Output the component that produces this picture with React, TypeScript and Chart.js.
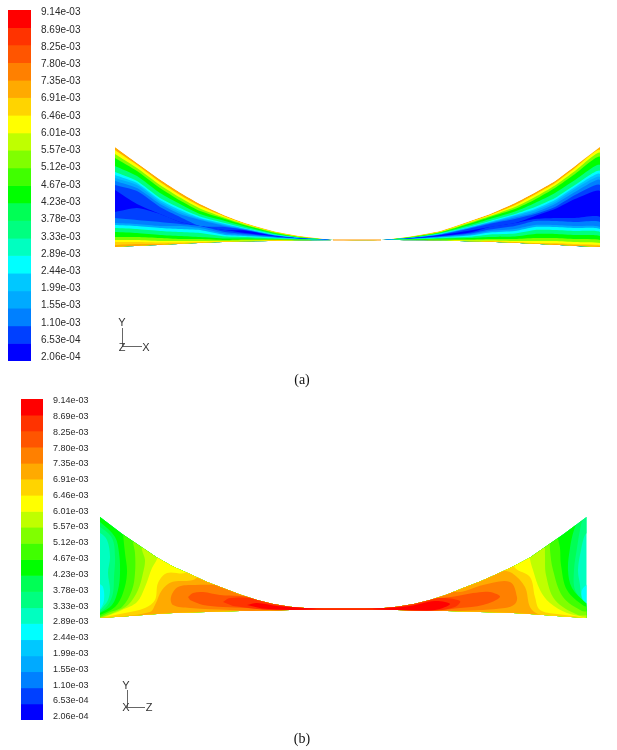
import React, { useEffect, useRef } from "react";
import { Chart, registerables } from "chart.js";

Chart.register(...registerables);

const levelValues = [
  9.14e-3, 8.69e-3, 8.25e-3, 7.8e-3, 7.35e-3, 6.91e-3, 6.46e-3, 6.01e-3, 5.57e-3, 5.12e-3, 4.67e-3,
  4.23e-3, 3.78e-3, 3.33e-3, 2.89e-3, 2.44e-3, 1.99e-3, 1.55e-3, 1.1e-3, 6.53e-4, 2.06e-4,
];
const levelLabels = [
  "9.14e-03", "8.69e-03", "8.25e-03", "7.80e-03", "7.35e-03", "6.91e-03", "6.46e-03", "6.01e-03",
  "5.57e-03", "5.12e-03", "4.67e-03", "4.23e-03", "3.78e-03", "3.33e-03", "2.89e-03", "2.44e-03",
  "1.99e-03", "1.55e-03", "1.10e-03", "6.53e-04", "2.06e-04",
];
const bandColors = [
  "#ff0000", "#ff3300", "#ff5500", "#ff8000", "#ffaa00", "#ffd400", "#ffff00", "#bfff00", "#80ff00", "#40ff00",
  "#00ff00", "#00ff55", "#00ff80", "#00ffc0", "#00ffff", "#00c8ff", "#00aaff", "#0080ff", "#0040ff", "#0000ff",
];

// Panel (a): band sequence along a vertical cut, top wall to bottom wall
const aBandSequence = [4, 6, 8, 10, 12, 14, 15, 16, 17, 18, 19, 18, 17, 16, 14, 12, 10, 8, 6, 5, 4];
const aStations = [115, 137, 160, 180, 200, 225, 245, 275, 300, 325, 335, 381, 410, 440, 470, 490, 515, 535, 555, 575, 600];
const aCrossings = [
  [147, 150, 154, 158, 166, 172, 175, 178, 181, 185, 190, 212, 218, 223, 225, 228, 232, 237, 240, 242, 245, 247],
  [163, 165, 168, 171, 176, 181, 183, 185, 188, 191, 204, 208, 220, 224, 226, 229, 233, 237, 240, 242, 244, 246],
  [179.5, 182, 185, 188, 193, 198, 200, 202, 204, 207, 214, 214, 222, 226, 228, 231, 235, 238, 241, 242.5, 244, 245],
  [192.5, 195, 197.5, 200.5, 204, 208, 210, 212, 214, 217, 222, 222, 224, 226, 229, 232, 236, 239, 241, 242.5, 243.5, 244],
  [204, 206, 208.5, 211, 214, 216.5, 218, 219, 220, 226, 226, 226, 226, 228, 230, 233, 237, 239, 241, 242, 242.7, 243],
  [215.5, 216.5, 217.8, 219, 221, 223, 224, 225, 226, 227, 230, 230, 232, 233.5, 235, 236.5, 238.5, 240, 241, 241.5, 241.8, 242],
  [223, 223.7, 224.4, 225.2, 226.5, 228, 228.7, 229, 229.5, 230, 230.5, 233, 234, 235, 236, 237, 238.5, 239.5, 240.5, 241, 241.3, 241.5],
  [231.5, 231.8, 232.3, 233, 233.8, 234.5, 235, 235.2, 235.5, 235.7, 236, 236.2, 236.8, 237.2, 237.7, 238.2, 239, 239.6, 240.2, 240.5, 240.8, 241],
  [236, 236.5, 237, 237.3, 237.6, 237.9, 238, 238.1, 238.2, 238.3, 238.4, 238.5, 238.7, 238.9, 239, 239.2, 239.5, 239.8, 240.1, 240.3, 240.4, 240.5],
  [239, 239.2, 239.3, 239.4, 239.5, 239.6, 239.65, 239.7, 239.72, 239.75, 239.8, 239.82, 239.85, 239.88, 239.9, 239.95, 240, 240.05, 240.1, 240.15, 240.2, 240.3],
  [240, 240, 240, 240, 240, 240, 240, 240, 240, 240, 240, 240, 240, 240, 240, 240, 240, 240, 240, 240, 240, 240],
  [240, 240, 240, 240, 240, 240, 240, 240, 240, 240, 240, 240, 240, 240, 240, 240, 240, 240, 240, 240, 240, 240],
  [236.5, 236.8, 237, 237.3, 237.6, 237.9, 238, 238.1, 238.2, 238.3, 238.4, 238.5, 238.7, 238.9, 239, 239.2, 239.4, 239.7, 239.9, 240, 240.1, 240.2],
  [231, 231.5, 232, 232.5, 233, 233.7, 234, 234.2, 234.5, 234.8, 235.2, 236, 236.5, 237, 237.5, 238, 238.7, 239.4, 240, 240.2, 240.4, 240.5],
  [221, 221.7, 222.5, 223.5, 225, 226.5, 227, 227.5, 228, 228.5, 230.5, 232.5, 233.5, 234.5, 235.5, 236.8, 238, 239.5, 240.5, 241, 241.3, 241.5],
  [214, 215, 216, 217, 219, 221, 221.8, 222.5, 223, 223.7, 227, 227, 229.5, 231, 232.5, 234.5, 237, 239, 240.5, 241.2, 241.6, 242],
  [203, 205, 207, 209, 211.5, 214, 215, 216, 217.5, 219, 223, 223, 226, 229, 231, 233.5, 236.5, 239, 241, 242, 242.6, 243],
  [192.5, 194.5, 197, 199.5, 203, 207, 209, 210.5, 212.5, 214, 216, 219, 221, 225, 227, 230, 234, 238, 241, 243, 243.5, 244],
  [181, 183, 185.5, 188, 193, 198, 200, 202, 204, 207, 209, 218, 221, 225, 227, 230, 234, 238, 241, 243, 244, 245],
  [166, 168, 171, 174, 180, 185, 187, 189, 192, 195, 199, 218, 222, 226, 228, 231, 235, 239, 242, 244, 245, 246],
  [147, 150, 153, 157, 165, 171, 174, 177, 180, 185, 191, 217, 222, 227, 229, 232, 236, 240, 243, 245, 246, 247],
];
const aApexX = [333, 381];
const aApexY = [240, 240];
const aTriadX = [122.5, 122.5, 142];
const aTriadY = [328, 346.5, 346.5];

// Panel (b): channel outline
const bWallX = [100, 123, 157, 173, 190, 206, 223, 240, 257, 273, 290, 305, 317, 372, 384, 397, 414, 430, 447, 463, 480, 497, 513, 530, 563, 586.5];
const bTopWallY = [517, 534.5, 557.5, 566.5, 574, 581.5, 588, 594.5, 600, 604, 606.8, 608, 608.5, 608.5, 608, 606.8, 604, 600, 594.5, 588, 581.5, 574, 566.5, 557.5, 534.5, 517];
const bBottomWallY = [618, 616.5, 614, 613, 612.5, 612, 611.5, 611, 610.8, 610.4, 610, 609.7, 609.5, 609.5, 609.7, 610, 610.4, 610.8, 611, 611.5, 612, 612.5, 613, 614, 616.5, 618];

// Panel (b): nested contour regions [band colour, outline], coolest first
const bBase = [[95, 510], [590, 510], [590, 625], [95, 625]];
const bCyanLeft = [[98, 583], [103, 587], [104, 600], [101, 608], [98, 610]];
const bCyanRight = [[590, 582], [582, 590], [583, 600], [590, 607]];
const bLevel12 = [[95, 510], [95, 533], [100, 533], [107, 540], [110, 557], [108, 573], [110, 590], [108, 600], [103, 607], [100, 610], [95, 611], [95, 625], [590, 625], [590, 612], [586, 608], [582, 600], [580, 585], [578, 570], [581, 550], [585, 535], [590, 530], [590, 510]];
const bLevel11 = [[95, 510], [95, 526], [100, 527], [112, 538], [115, 557], [114, 577], [113, 593], [108, 605], [100, 612], [95, 613], [95, 625], [590, 625], [590, 608], [585, 603], [575, 590], [574, 570], [577, 548], [580, 530], [583, 520], [590, 515], [590, 510]];
const bLevel10 = [[95, 510], [95, 521], [100, 522], [115, 537], [119, 553], [120, 573], [118, 590], [112, 605], [100, 613], [95, 614], [95, 625], [590, 625], [590, 604], [586, 603], [572, 588], [568, 570], [570, 548], [574, 530], [579, 520], [590, 512]];
const bLevel9 = [[123, 525], [123, 533], [125, 553], [127, 573], [123, 593], [115, 607], [100, 615], [95, 616], [95, 625], [590, 625], [590, 607], [584, 606], [567, 590], [561, 565], [560, 548], [558, 538], [558, 530]];
const bLevel8 = [[133, 535], [133, 542], [135, 553], [135, 573], [132, 590], [122, 607], [108, 613], [100, 617], [95, 618], [95, 625], [590, 625], [590, 612], [582, 611], [563, 597], [553, 570], [550, 550], [550, 542]];
const bLevel7 = [[142, 545], [142, 550], [145, 560], [143, 573], [138, 590], [128, 605], [115, 612], [100, 618], [95, 620], [95, 625], [590, 625], [590, 616], [578, 615], [555, 600], [546, 575], [545, 556], [545, 548]];
const bLevel6 = [[157, 552], [157, 559], [152, 568], [145, 587], [137, 602], [122, 610], [105, 617], [95, 621], [95, 625], [590, 625], [590, 620], [583, 617], [567, 613], [550, 603], [540, 590], [533, 570], [530, 559], [530, 550]];
const bLevel5 = [[185, 566], [185, 573], [167, 573], [158, 583], [155, 600], [145, 608], [125, 613], [105, 617], [95, 620], [95, 625], [590, 625], [590, 621], [580, 617], [557, 614], [540, 610], [535, 597], [530, 577], [515, 568], [515, 560]];
const bLevel4 = [[203, 572], [193, 580], [172, 582], [162, 590], [155, 605], [150, 612], [115, 617], [100, 618], [95, 622], [95, 625], [590, 625], [583, 619], [557, 617], [538, 614], [530, 607], [525, 587], [512, 573], [500, 570]];
const bLevel3 = [[228, 585], [195, 585], [178, 587], [171, 597], [173, 605], [190, 608], [230, 610], [290, 612], [400, 612], [460, 611], [505, 608], [515, 604], [517, 597], [510, 582], [483, 585], [460, 592], [440, 590], [345, 600], [245, 590]];
const bLevel2 = [[188, 597], [193, 593], [203, 592], [220, 595], [240, 596], [300, 600], [345, 600], [400, 600], [440, 598], [457, 596], [473, 593], [490, 592], [500, 597], [483, 605], [460, 608], [440, 610], [400, 611], [345, 611], [290, 611], [247, 608], [223, 607], [203, 605], [190, 600]];
const bLevel1 = [[223, 602], [230, 598], [250, 598], [300, 603], [345, 606], [400, 604], [440, 598], [460, 601], [455, 607], [430, 611], [345, 611], [290, 611], [257, 609], [233, 606]];
const bLevel0 = [[247, 605], [257, 603], [277, 606], [317, 608], [372, 608], [410, 606], [435, 601], [450, 604], [435, 610], [397, 610.5], [345, 610], [290, 610], [262, 608.5]];
const bRegions: [number, number[][]][] = [
  [13, bBase], [14, bCyanLeft], [14, bCyanRight], [12, bLevel12], [11, bLevel11], [10, bLevel10], [9, bLevel9],
  [8, bLevel8], [7, bLevel7], [6, bLevel6], [5, bLevel5], [4, bLevel4], [3, bLevel3], [2, bLevel2], [1, bLevel1], [0, bLevel0],
];
const bTriadX = [127.5, 127.5, 145];
const bTriadY = [690, 707.5, 707.5];

const aTexts = [
  { t: "Y", x: 122, y: 323 }, { t: "Z", x: 122, y: 348 }, { t: "X", x: 146, y: 348 },
];
const bTexts = [
  { t: "Y", x: 126, y: 686 }, { t: "X", x: 126, y: 708 }, { t: "Z", x: 149, y: 708 },
];
const aCaption = { t: "(a)", x: 302, y: 380 };
const bCaption = { t: "(b)", x: 302, y: 739 };

const polygonDataset = (pts: { x: number; y: number }[], color: string, order: number, tension: number) => ({
  data: pts,
  showLine: true,
  fill: "shape",
  backgroundColor: color,
  borderWidth: 0,
  borderColor: color,
  pointRadius: 0,
  tension,
  order,
});

const strokeDataset = (xs: number[], ys: number[], color: string, width: number, order: number) => ({
  data: xs.map((x, i) => ({ x, y: ys[i] })),
  showLine: true,
  fill: false,
  borderColor: color,
  borderWidth: width,
  pointRadius: 0,
  tension: 0,
  order,
});

const textPlugin = (texts: { t: string; x: number; y: number }[], caption: { t: string; x: number; y: number }) => ({
  id: "panelTexts",
  afterDraw(chart: any) {
    const { ctx, scales } = chart;
    ctx.save();
    ctx.textAlign = "center";
    ctx.textBaseline = "middle";
    ctx.fillStyle = "#333";
    ctx.font = "11px 'Liberation Sans'";
    texts.forEach((l) => ctx.fillText(l.t, scales.x.getPixelForValue(l.x), scales.y.getPixelForValue(l.y)));
    ctx.fillStyle = "#111";
    ctx.font = "14px 'Liberation Serif'";
    ctx.fillText(caption.t, scales.x.getPixelForValue(caption.x), scales.y.getPixelForValue(caption.y));
    ctx.restore();
  },
});

const clipB = {
  id: "clipB",
  beforeDatasetsDraw(chart: any) {
    const { ctx, scales } = chart;
    const px = (v: number) => scales.x.getPixelForValue(v);
    const py = (v: number) => scales.y.getPixelForValue(v);
    ctx.save();
    ctx.beginPath();
    bWallX.forEach((x, i) => (i ? ctx.lineTo(px(x), py(bTopWallY[i])) : ctx.moveTo(px(x), py(bTopWallY[i]))));
    for (let i = bWallX.length - 1; i >= 0; i--) ctx.lineTo(px(bWallX[i]), py(bBottomWallY[i]));
    ctx.closePath();
    ctx.rect(px(100), py(640), px(200) - px(100), py(720) - py(640));
    ctx.clip();
  },
  afterDatasetsDraw(chart: any) {
    chart.ctx.restore();
  },
};

const clipA = {
  id: "clipA",
  beforeDatasetsDraw(chart: any) {
    const { ctx, scales } = chart;
    const px = (v: number) => scales.x.getPixelForValue(v);
    const py = (v: number) => scales.y.getPixelForValue(v);
    const last = aCrossings[0].length - 1;
    ctx.save();
    ctx.beginPath();
    aStations.forEach((x, s) => (s ? ctx.lineTo(px(x), py(aCrossings[s][0])) : ctx.moveTo(px(x), py(aCrossings[s][0]))));
    for (let s = aStations.length - 1; s >= 0; s--) ctx.lineTo(px(aStations[s]), py(aCrossings[s][last]));
    ctx.closePath();
    ctx.rect(px(aApexX[0]), py(238), px(aApexX[1]) - px(aApexX[0]), py(242) - py(238));
    ctx.rect(px(100), py(300), px(200) - px(100), py(360) - py(300));
    ctx.clip();
  },
  afterDatasetsDraw(chart: any) {
    chart.ctx.restore();
  },
};

function baseContourOptions(yMin: number, yMax: number) {
  return {
    animation: false,
    responsive: false,
    events: [],
    layout: { padding: 0 },
    plugins: { legend: { display: false }, tooltip: { enabled: false } },
    scales: {
      x: { type: "linear", display: false, min: 0, max: 617 },
      y: { type: "linear", display: false, min: yMin, max: yMax, reverse: true },
    },
  };
}

function makeContourA(canvas: HTMLCanvasElement) {
  const last = aCrossings[0].length - 1;
  const bottom = aStations.map((x, s) => ({ x, y: aCrossings[s][last] })).reverse();
  const datasets: any[] = aBandSequence.map((band, i) =>
    polygonDataset(
      [...aStations.map((x, s) => ({ x, y: aCrossings[s][i] })), ...bottom],
      bandColors[band],
      -i,
      0.2
    )
  );
  datasets.push(strokeDataset(aApexX, aApexY, "#ffb84d", 1.5, -100));
  datasets.push(strokeDataset(aTriadX, aTriadY, "#666666", 1, -101));
  return new Chart(canvas, {
    type: "scatter",
    data: { datasets },
    options: baseContourOptions(0, 390) as any,
    plugins: [clipA, textPlugin(aTexts, aCaption)],
  } as any);
}

function makeContourB(canvas: HTMLCanvasElement) {
  const datasets: any[] = bRegions.map(([band, outline], i) =>
    polygonDataset(outline.map(([x, y]) => ({ x, y })), bandColors[band], -i, 0.35)
  );
  datasets.push(strokeDataset(bTriadX, bTriadY, "#666666", 1, -101));
  return new Chart(canvas, {
    type: "scatter",
    data: { datasets },
    options: baseContourOptions(375, 750) as any,
    plugins: [clipB, textPlugin(bTexts, bCaption)],
  } as any);
}

function makeColorBar(
  canvas: HTMLCanvasElement,
  pad: { left: number; top: number; bottom: number },
  axisWidth: number,
  fontSize: number,
  labelRange: [number, number]
) {
  return new Chart(canvas, {
    type: "bar",
    data: {
      labels: ["levels"],
      datasets: bandColors.map((c, i) => ({
        label: levelLabels[i],
        data: [[levelValues[i + 1], levelValues[i]]],
        backgroundColor: c,
        borderWidth: 0,
        grouped: false,
        barPercentage: 1,
        categoryPercentage: 1,
        yAxisID: "y",
      })),
    },
    options: {
      animation: false,
      responsive: false,
      events: [],
      layout: { padding: { left: pad.left, top: pad.top, bottom: pad.bottom, right: 0 } },
      plugins: { legend: { display: false }, tooltip: { enabled: false } },
      scales: {
        x: { display: false },
        y: { display: false, min: levelValues[levelValues.length - 1], max: levelValues[0] },
        y2: {
          position: "right",
          min: labelRange[0],
          max: labelRange[1],
          grid: { display: false, drawTicks: false },
          border: { display: false },
          afterBuildTicks: (scale: any) => {
            scale.ticks = levelValues.map((value) => ({ value }));
          },
          afterFit: (scale: any) => {
            scale.width = axisWidth;
          },
          ticks: {
            autoSkip: false,
            padding: 10,
            color: "#2a2a2a",
            font: { family: "'Liberation Sans'", size: fontSize },
            callback: (v: number) => levelLabels[levelValues.indexOf(v)],
          },
        },
      },
    } as any,
  } as any);
}

export default function App() {
  const contourA = useRef<HTMLCanvasElement>(null);
  const contourB = useRef<HTMLCanvasElement>(null);
  const barA = useRef<HTMLCanvasElement>(null);
  const barB = useRef<HTMLCanvasElement>(null);

  useEffect(() => {
    const charts = [
      makeContourA(contourA.current!),
      makeContourB(contourB.current!),
      makeColorBar(barA.current!, { left: 8, top: 30, bottom: 24 }, 69, 10, [1.154e-4, 9.2047e-3]),
      makeColorBar(barB.current!, { left: 21, top: 24, bottom: 30 }, 57, 9, [1.127e-4, 9.188e-3]),
    ];
    return () => charts.forEach((c) => c.destroy());
  }, []);

  const abs = (left: number, top: number): React.CSSProperties => ({ position: "absolute", left, top, display: "block" });

  return (
    <div style={{ position: "absolute", left: 0, top: 0, width: 617, height: 750, background: "#fff", overflow: "hidden" }}>
      <canvas ref={contourA} width={617} height={390} style={abs(0, 0)} />
      <canvas ref={contourB} width={617} height={375} style={abs(0, 375)} />
      <canvas ref={barA} width={100} height={405} style={abs(0, -20)} />
      <canvas ref={barB} width={100} height={375} style={abs(0, 375)} />
    </div>
  );
}
